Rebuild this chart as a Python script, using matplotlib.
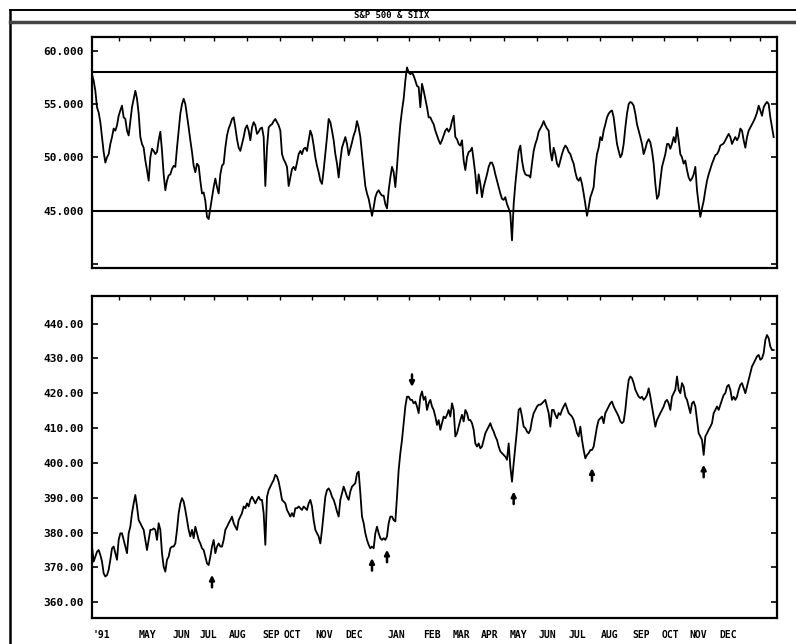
import numpy as np
import matplotlib
matplotlib.use('Agg')
import matplotlib.pyplot as plt
from matplotlib.lines import Line2D

# ------------------------------------------------------------------
# Données : un point par séance environ
# ------------------------------------------------------------------
title = 'S&P 500 & SIIX'

# indicateur (panneau du haut)
iix = [
    57.8, 57.2, 56.25, 54.7, 54.2, 53.3, 51.9, 50.5, 49.5, 50.0,
    50.3, 51.25, 51.9, 52.7, 52.5, 53.0, 53.9, 54.4, 54.85, 53.75,
    53.6, 52.5, 52.05, 53.4, 54.7, 55.5, 56.25, 55.5, 54.1, 51.9,
    51.25, 50.9, 49.7, 48.8, 47.8, 50.0, 50.8, 50.6, 50.3, 50.5,
    51.6, 52.4, 50.6, 48.4, 46.9, 47.8, 48.3, 48.4, 48.9, 49.2,
    49.1, 50.9, 52.5, 54.1, 55.0, 55.5, 55.0, 53.9, 52.8, 51.6,
    50.5, 49.2, 48.6, 49.4, 49.2, 47.8, 46.6, 46.7, 45.9, 44.4,
    44.2, 45.2, 46.25, 47.2, 48.0, 47.2, 46.6, 48.4, 49.2, 49.4,
    50.9, 52.05, 52.7, 53.1, 53.6, 53.75, 52.8, 51.7, 50.9, 50.6,
    51.25, 51.9, 52.7, 53.0, 52.5, 51.6, 52.8, 53.3, 53.0, 52.2,
    52.4, 52.7, 52.8, 51.9, 47.3, 50.9, 52.8, 53.0, 53.1, 53.4,
    53.6, 53.3, 53.0, 52.5, 50.3, 49.8, 49.5, 49.1, 47.3, 48.1,
    48.9, 49.1, 48.8, 49.5, 50.3, 50.6, 50.3, 50.8, 50.9, 50.6,
    51.6, 52.5, 52.05, 51.1, 50.0, 49.2, 48.6, 47.8, 47.5, 48.8,
    50.3, 51.9, 53.6, 53.3, 52.5, 51.6, 50.3, 49.4, 48.1, 49.7,
    50.9, 51.4, 51.9, 51.25, 50.2, 50.8, 51.4, 52.05, 52.5, 53.4,
    52.8, 51.9, 50.3, 48.8, 47.3, 46.6, 46.1, 45.3, 44.5, 45.3,
    46.25, 46.7, 46.9, 46.6, 46.4, 46.4, 45.6, 45.2, 46.9, 48.1,
    49.1, 48.6, 47.2, 49.1, 51.25, 53.1, 54.4, 55.5, 57.2, 58.44,
    57.97, 57.8, 57.97, 57.66, 57.2, 56.7, 56.6, 54.7, 56.9, 56.25,
    55.5, 54.7, 53.75,
    53.75, 53.4, 53.1, 52.5, 52.05, 51.6, 51.25, 51.6, 52.05, 52.5,
    52.7, 52.4, 52.7, 53.4, 53.9, 51.9, 51.7, 51.25, 51.1, 51.6,
    49.7, 48.8, 50.0, 50.5, 50.6, 50.9, 49.7, 48.4, 46.6, 48.4,
    47.5, 46.25, 47.2, 47.8, 48.4, 49.1, 49.5, 49.5, 49.1, 48.4,
    47.8, 47.2, 46.6, 46.1, 46.0, 46.25, 45.6, 45.2, 44.7, 42.2,
    45.6, 47.5, 49.1, 50.6, 51.1, 49.7, 48.8, 48.4, 48.3, 48.3,
    48.1, 49.4, 50.6, 51.25, 51.7, 52.4, 52.7, 53.0, 53.4, 53.0,
    52.7, 52.5, 50.6, 49.7, 50.9, 50.3, 49.4, 49.1, 49.7, 50.3,
    50.8, 51.1, 50.9, 50.5, 50.3, 49.8, 49.4, 48.6, 48.0, 47.8,
    48.1, 47.5, 46.6, 45.6, 44.5, 45.3, 46.25, 46.7, 47.2, 49.1,
    50.3, 50.9, 51.9, 51.6, 52.5, 53.1, 53.75, 54.1, 54.3, 54.4,
    53.75, 52.5, 51.25, 50.6, 50.0, 50.3, 51.25, 52.8, 54.1, 55.0,
    55.2, 55.1, 54.85, 54.1, 53.1, 52.5, 51.9, 51.25, 50.3, 50.8,
    51.4, 51.7, 51.4, 50.6, 49.4, 47.5, 46.1, 46.4, 47.8, 49.1,
    49.7, 50.3, 51.25, 51.25, 50.8, 51.25, 51.9, 51.4, 52.8, 51.6,
    50.3, 50.0, 49.4, 49.7, 48.8, 48.1, 47.8, 48.0, 48.4, 49.1,
    46.9, 45.6, 44.4, 45.2, 45.9, 46.9, 47.8, 48.4, 48.9, 49.4,
    49.8, 50.2, 50.3, 50.6, 51.1, 51.2, 51.3, 51.6, 51.9, 52.2,
    51.9, 51.25, 51.6, 51.9, 51.6, 51.9, 52.7, 52.5, 51.6, 50.9,
    51.9, 52.5, 52.8, 53.1, 53.4, 53.75, 54.2, 54.85, 54.4, 53.9,
    54.7, 55.0, 55.2, 55.0, 53.75, 52.8, 51.9,
]

# S&P 500 (panneau du bas)
spx = [
    376.0, 371.7, 373.1, 374.5, 375.0, 373.6, 371.7, 368.3, 367.4, 367.8,
    369.3, 372.2, 375.5, 376.0, 374.1, 372.2, 377.9, 379.8, 379.8, 377.9,
    376.0, 374.1, 379.8, 381.7, 385.6, 388.4, 390.8, 387.5, 383.6, 382.7,
    381.7, 380.8, 377.9, 375.0, 377.9, 380.8, 380.8, 381.2, 380.8, 377.9,
    382.7, 380.8, 374.1, 370.2, 368.8, 372.2, 373.1, 375.5, 376.0, 376.0,
    376.9, 380.8, 385.6, 388.4, 389.9, 388.9, 386.5, 383.6, 380.8, 378.9,
    380.8, 378.4, 381.7, 379.8, 377.9, 376.9, 375.5, 375.0, 373.1, 371.2,
    370.7, 373.1, 376.0, 377.9, 374.1, 376.0, 376.9, 376.0, 376.0, 377.9,
    380.8, 381.7, 382.7, 383.6, 384.6, 382.7, 381.7, 380.8, 383.6, 384.6,
    385.6, 387.5, 387.0, 388.4, 387.5, 389.4, 390.3, 389.4, 388.4, 389.4,
    390.3, 389.4, 389.4, 385.6, 376.5, 390.3, 392.2, 393.2, 394.2, 395.1,
    396.6, 396.1, 394.6, 392.2, 389.4, 388.9, 388.4, 386.5, 385.6, 384.6,
    385.6, 384.6, 387.0, 387.0, 387.5, 387.0, 386.5, 387.5, 387.0, 386.5,
    388.4, 389.4, 387.5, 383.6, 380.8, 379.8, 378.9, 376.9, 380.8, 385.6,
    390.3, 392.2, 392.7, 391.8, 390.3, 389.4, 387.9, 386.0, 384.6, 389.4,
    391.3, 393.2, 391.8, 390.3, 389.4, 391.8, 393.2, 393.7, 394.2, 397.0,
    397.5, 391.3, 384.6, 382.7, 379.8, 377.9, 376.5, 375.5, 376.0, 375.5,
    379.8, 381.7, 379.8, 378.4, 377.9, 378.4, 377.9, 378.9, 382.7, 384.6,
    384.6, 383.6, 383.2, 390.3, 398.0, 402.8, 406.6, 411.4, 416.2, 419.0,
    419.0, 418.1, 418.1, 417.1, 417.6, 416.2, 414.3, 419.0, 420.5, 418.1,
    419.0, 415.2, 417.1,
    418.1, 416.2, 415.2, 413.3, 410.9, 412.3, 409.5, 411.4, 413.3, 412.8,
    413.8, 415.2, 413.3, 417.1, 415.2, 407.6, 408.5, 410.4, 412.3, 413.8,
    411.9, 415.2, 414.3, 412.3, 412.3, 411.4, 409.5, 405.6, 404.7, 405.6,
    404.2, 404.7, 406.6, 408.5, 409.5, 410.4, 411.4, 410.0, 409.0, 407.6,
    406.6, 404.7, 403.3, 402.8, 402.3, 401.8, 400.9, 405.6, 398.9, 394.6,
    399.9, 404.7, 409.5, 415.2, 415.7, 413.3, 410.4, 410.0, 409.0, 408.5,
    409.5, 412.3, 414.3, 415.2, 416.2, 416.7, 416.7, 417.1, 417.6, 418.1,
    416.2, 414.3, 410.4, 415.2, 415.2, 413.8, 412.8, 414.3, 413.8, 415.2,
    416.2, 417.1, 415.7, 414.3, 413.8, 413.3, 412.3, 410.4, 408.5, 407.6,
    410.4, 406.6, 403.7, 401.3, 402.3, 402.8, 403.7, 403.7, 404.7, 407.6,
    410.4, 412.3, 412.8, 413.3, 411.4, 414.3, 415.2, 416.2, 417.1, 417.6,
    416.2, 415.2, 414.3, 413.3, 411.9, 411.4, 411.9, 415.2, 420.0, 423.8,
    424.8, 424.3, 422.9, 421.0, 420.0, 419.0, 418.6, 419.0, 418.1, 418.6,
    419.5, 421.4, 419.0, 416.2, 413.3, 410.4, 412.3, 413.3, 414.3, 415.2,
    416.2, 417.6, 418.1, 417.1, 415.2, 419.0, 420.0, 421.0, 424.8, 421.0,
    420.0, 422.9, 421.9, 419.0, 418.1, 416.2, 414.3, 417.1, 417.6, 416.2,
    412.3, 408.5, 407.6, 406.6, 402.3, 407.6, 408.5, 409.5, 410.4, 411.4,
    414.3, 415.2, 416.2, 415.2, 416.7, 418.1, 419.5, 420.0, 421.9, 422.4,
    421.0, 418.1, 419.0, 418.1, 419.0, 421.0, 422.4, 422.9, 421.4, 420.0,
    421.9, 423.8, 425.7, 427.7, 428.6, 429.6, 430.6, 431.0, 429.6, 430.0,
    431.5, 435.3, 436.7, 435.8, 433.4, 432.4, 432.4,
]

# niveaux de référence de l'indicateur
iix_levels = [58.0, 45.0]

# flèches : indice de la séance, sens
arrow_idx = [72, 168, 177, 192, 253, 300, 367]
arrow_dir = ['up', 'up', 'up', 'down', 'up', 'up', 'up']

# début de chaque mois (indice de séance) et étiquettes de l'axe
month_ticks = [16, 35, 55, 73, 93, 113, 132, 151, 171, 190, 208,
               227, 247, 267, 285, 305, 324, 343, 363, 383, 401]
month_label_pos = [5.6, 33.2, 53.6, 69.8, 87.2, 107.6, 120.2, 139.4, 157.4,
                   182.6, 204.2, 221.6, 238.4, 255.8, 273.2, 291.2, 310.4,
                   329.6, 347.0, 363.8, 381.8]
month_labels = ["'91", 'MAY', 'JUN', 'JUL', 'AUG', 'SEP', 'OCT', 'NOV', 'DEC',
                'JAN', 'FEB', 'MAR', 'APR', 'MAY', 'JUN', 'JUL', 'AUG', 'SEP',
                'OCT', 'NOV', 'DEC']

iix_ticks = [40, 45, 50, 55, 60]
spx_ticks = [360, 370, 380, 390, 400, 410, 420, 430, 440]

# ------------------------------------------------------------------
plt.rcParams['font.family'] = ['DejaVu Sans Mono']
plt.rcParams['font.weight'] = 'bold'

W, H = 796, 644
fig = plt.figure(figsize=(W / 100, H / 100), dpi=100)


def px_box(x0, y0, x1, y1):
    return [x0 / W, 1 - y1 / H, (x1 - x0) / W, (y1 - y0) / H]


ax1 = fig.add_axes(px_box(92, 37, 777, 268))
ax2 = fig.add_axes(px_box(92, 296, 777, 618))

x1 = np.arange(len(iix))
x2 = np.arange(len(spx))
spx_arr = np.array(spx)

# --- panneau du haut
ax1.plot(x1, iix, color='black', lw=1.3)
for lvl in iix_levels:
    ax1.axhline(lvl, color='black', lw=1.5)
ax1.set_ylim(39.6, 61.3)
ax1.set_yticks(iix_ticks)
ax1.set_yticklabels(['' if v == 40 else f'{v:.3f}' for v in iix_ticks])

# --- panneau du bas
ax2.plot(x2, spx, color='black', lw=1.3)
ax2.set_ylim(355.5, 447.9)
ax2.set_yticks(spx_ticks)
ax2.set_yticklabels([f'{v:.2f}' for v in spx_ticks])

for i, d in zip(arrow_idx, arrow_dir):
    win = spx_arr[max(i - 4, 0):i + 5]
    if d == 'up':
        tip = win.min() - 2.8
        tail = tip - 3.6
    else:
        tip = win.max() + 2.8
        tail = tip + 3.6
    ax2.annotate('', xy=(i, tip), xytext=(i, tail),
                 arrowprops=dict(arrowstyle='-|>', color='black', lw=1.8,
                                 mutation_scale=7, shrinkA=0, shrinkB=0))

for ax in (ax1, ax2):
    ax.set_xlim(0, 411)
    for s in ax.spines.values():
        s.set_linewidth(1.6)
    ax.tick_params(axis='y', which='major', direction='in', length=4,
                   width=1.2, left=True, right=True, labelsize=8, pad=6)
    ax.set_xticks(month_ticks, minor=True)
    ax.tick_params(axis='x', which='minor', direction='in', length=3,
                   width=1, top=True, bottom=False)

ax1.set_xticks([])
ax2.set_xticks(month_label_pos)
ax2.set_xticklabels(month_labels)
ax2.tick_params(axis='x', which='major', length=0, labelsize=7, pad=9)

# --- cadre et bandeau de titre
fig.add_artist(Line2D([10 / W, 10 / W], [0, 1 - 10 / H], color='black', lw=1.8))
fig.add_artist(Line2D([10 / W, 1], [1 - 10 / H, 1 - 10 / H], color='black', lw=1.4))
fig.add_artist(Line2D([10 / W, 1], [1 - 22 / H, 1 - 22 / H], color='#444444', lw=2.5))
fig.text(392 / W, 1 - 16 / H, title, ha='center', va='center', fontsize=6.5,
         fontweight='bold')

fig.savefig('out.png', dpi=100)
